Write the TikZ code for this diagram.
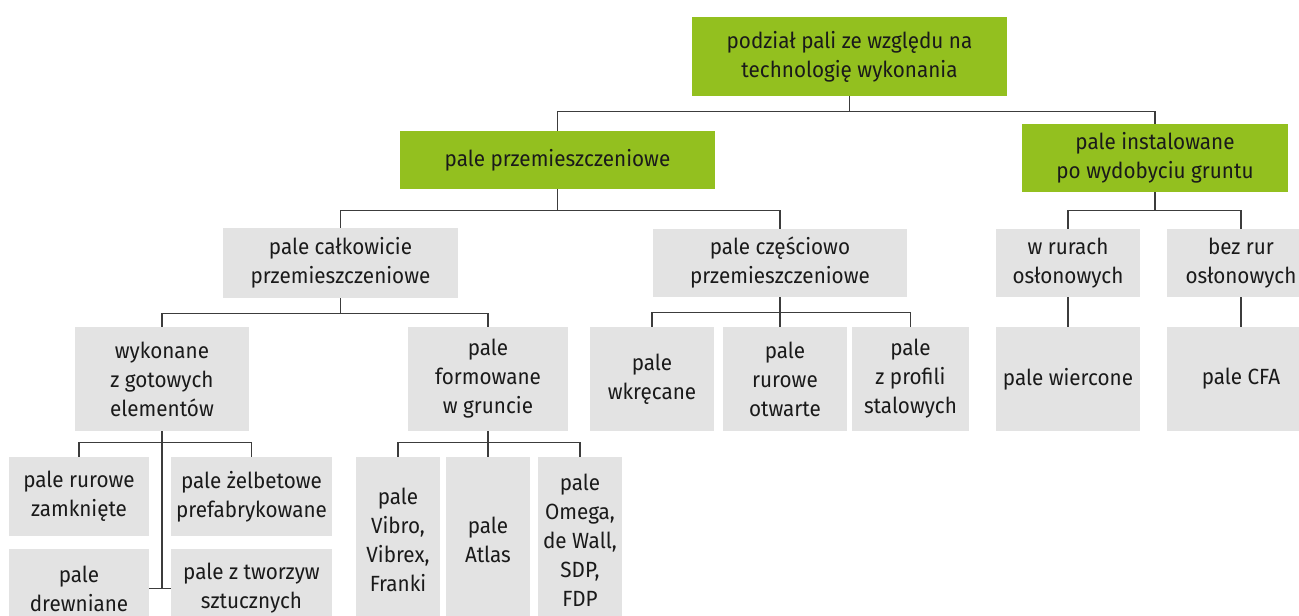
\documentclass[tikz,border=0pt]{standalone}
\usepackage{fontspec}
\setmainfont{Fira Sans}[FakeStretch=0.94]
\definecolor{pgreen}{RGB}{147,192,31}
\definecolor{pgray}{RGB}{227,227,227}
\definecolor{pline}{RGB}{60,60,60}
\definecolor{ptext}{RGB}{26,26,26}
\begin{document}
\begin{tikzpicture}[x=1pt,y=-1pt,
  box/.style={rectangle,inner sep=0pt,align=center,text=ptext,
    font=\fontsize{22}{29}\selectfont},
  gbox/.style={box,fill=pgreen},
  hbox/.style={box,fill=pgray},
  conn/.style={draw=pline,line width=1.3pt}]
\useasboundingbox (0,0) rectangle (1299,616);
% level 0
\node[gbox,minimum width=315,minimum height=79] (root) at (849.5,56.5) {podział pali ze względu na\\technologię wykonania};
% level 1
\node[gbox,minimum width=315,minimum height=58] (przem) at (557.5,160) {pale przemieszczeniowe};
\node[gbox,minimum width=266,minimum height=68] (inst) at (1155,158) {pale instalowane\\po wydobyciu gruntu};
% level 2
\node[hbox,minimum width=235,minimum height=70] (calk) at (340.5,263) {pale całkowicie\\przemieszczeniowe};
\node[hbox,minimum width=254,minimum height=68] (czes) at (780,263) {pale częściowo\\przemieszczeniowe};
\node[hbox,minimum width=144,minimum height=68] (wrur) at (1068,263) {w rurach\\osłonowych};
\node[hbox,minimum width=148,minimum height=68] (bezrur) at (1241,263) {bez rur\\osłonowych};
% level 3
\node[hbox,minimum width=174,minimum height=104] (wyk) at (162,379) {wykonane\\z gotowych\\elementów};
\node[hbox,minimum width=160,minimum height=104] (form) at (488,379) {pale\\formowane\\w gruncie};
\node[hbox,minimum width=124,minimum height=104] (wkr) at (652,379) {pale\\wkręcane};
\node[hbox,minimum width=124,minimum height=104] (rurotw) at (785,379) {pale\\rurowe\\otwarte};
\node[hbox,minimum width=117,minimum height=104] (profili) at (910.5,379) {pale\\z profili\\stalowych};
\node[hbox,minimum width=144,minimum height=104] (wierc) at (1068,379) {pale wiercone};
\node[hbox,minimum width=148,minimum height=104] (cfa) at (1241,379) {pale CFA};
% level 4
\node[hbox,minimum width=140,minimum height=79] (rurzam) at (79,496.5) {pale rurowe\\zamknięte};
\node[hbox,minimum width=161,minimum height=79] (zelb) at (251.5,496.5) {pale żelbetowe\\prefabrykowane};
\node[hbox,minimum width=140,minimum height=79] (drew) at (79,588.5) {pale\\drewniane};
\node[hbox,minimum width=161,minimum height=79] (tworz) at (251.5,588.5) {pale z tworzyw\\sztucznych};
\node[hbox,minimum width=84,minimum height=166] (vibro) at (398,540) {pale\\Vibro,\\Vibrex,\\Franki};
\node[hbox,minimum width=84,minimum height=166] (atlas) at (488,540) {pale\\Atlas};
\node[hbox,minimum width=84,minimum height=166] (omega) at (580,540) {pale\\Omega,\\de Wall,\\SDP,\\FDP};
% connectors
\draw[conn] (root.south) -- ++(0,15) coordinate (j0);
\draw[conn] (przem.north) |- (j0) -| (inst.north);
\draw[conn] (przem.south) -- ++(0,21) coordinate (j1);
\draw[conn] (calk.north) |- (j1) -| (czes.north);
\draw[conn] (inst.south) -- ++(0,18) coordinate (j2);
\draw[conn] (wrur.north) |- (j2) -| (bezrur.north);
\draw[conn] (calk.south) -- ++(0,15) coordinate (j3);
\draw[conn] (wyk.north) |- (j3) -| (form.north);
\draw[conn] (czes.south) -- (czes.south |- rurotw.north);
\draw[conn] (wkr.north) |- ([yshift=14]czes.south |- rurotw.north) -| (profili.north);
\draw[conn] (wyk.south) -- (wyk.south |- drew.east);
\draw[conn] (rurzam.north) |- ([yshift=14]wyk.south |- rurzam.north) -| (zelb.north);
\draw[conn] (drew.east) -- (tworz.west);
\draw[conn] (form.south) -- (atlas.north);
\draw[conn] (vibro.north) |- ([yshift=14]form.south |- vibro.north) -| (omega.north);
\draw[conn] (wrur.south) -- (wierc.north);
\draw[conn] (bezrur.south) -- (cfa.north);
\end{tikzpicture}
\end{document}
